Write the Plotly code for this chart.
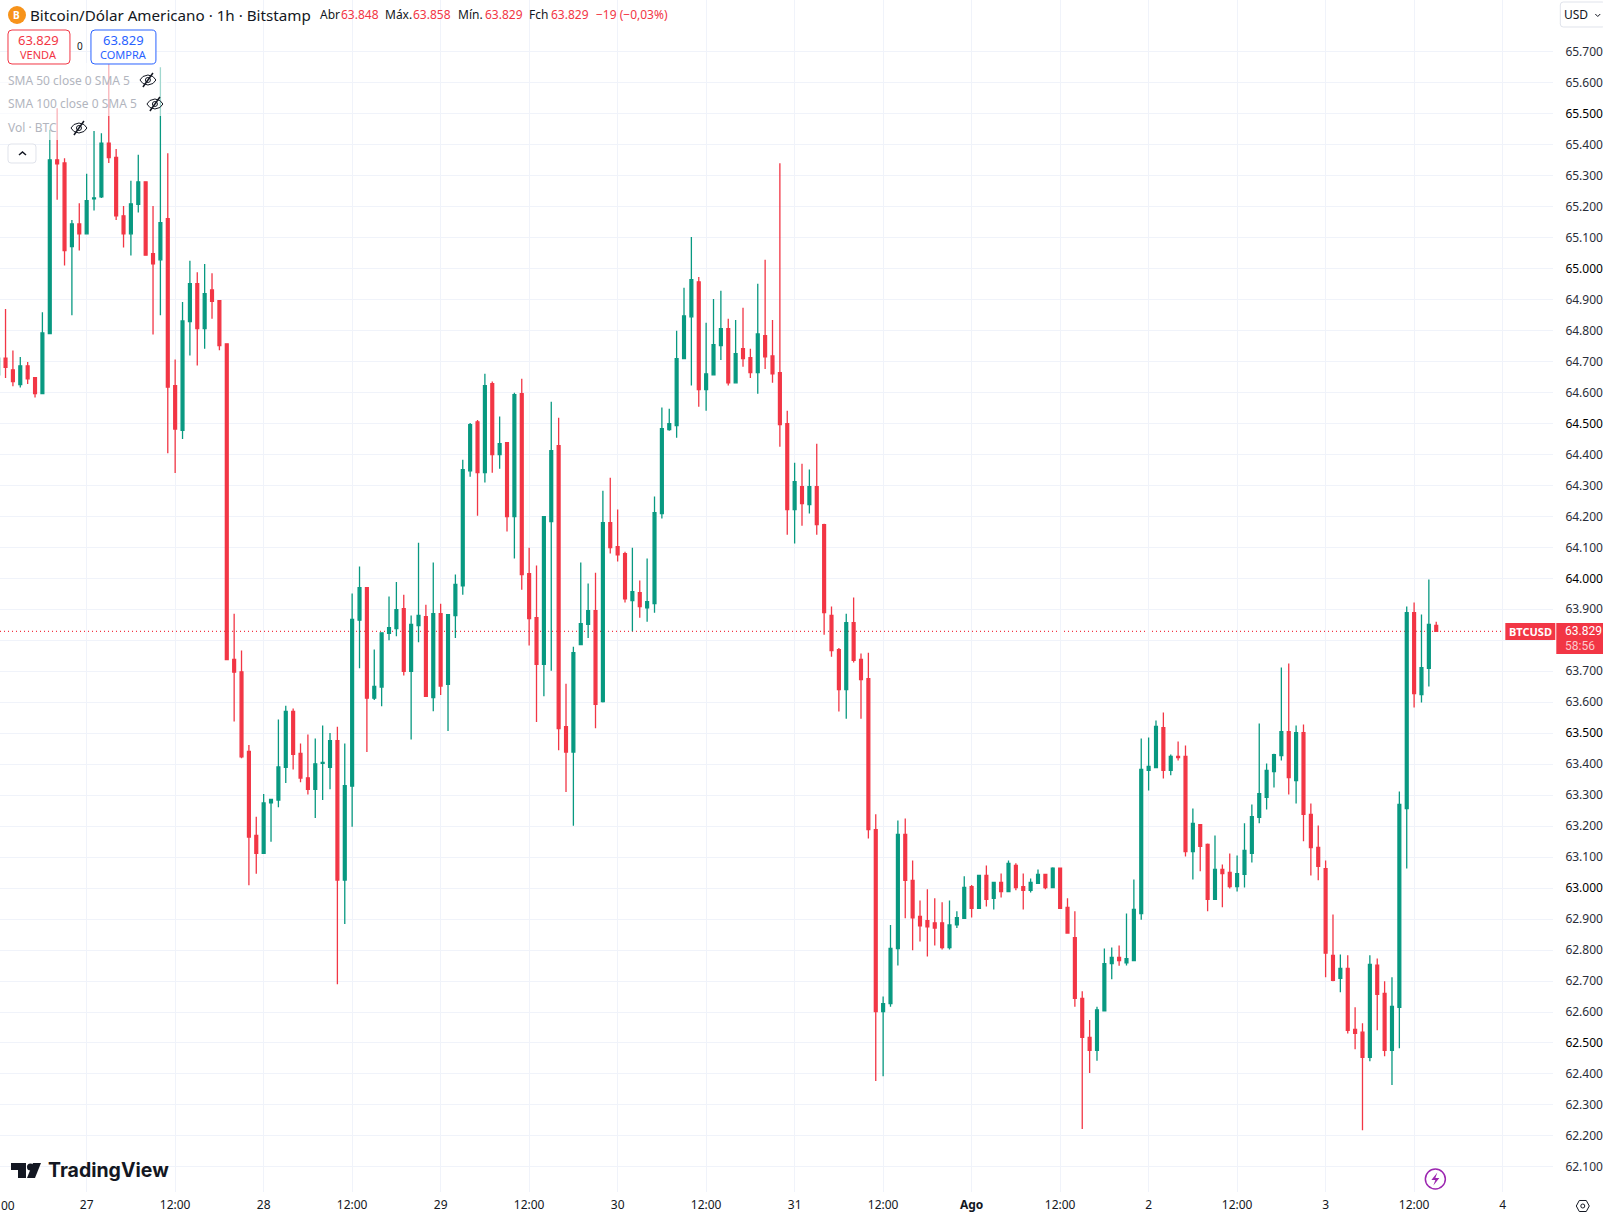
import pandas as pd
import plotly.graph_objects as go

# hourly candles, 26 Jul 12:00 -> 3 Aug 15:00 (one line = 12 hours)
opens = [
    64657, 64711, 64673, 64625, 64686, 64648, 64596, 64790, 65351, 65341, 65071, 65144,
    65112, 65225, 65231, 65405, 65359, 65170, 65112, 65207, 65280, 65048, 65028, 65161,
    64622, 64478, 64829, 64951, 64806, 64931, 64896, 64757, 63738, 63698, 63441, 63170,
    63112, 63275, 63284, 63390, 63570, 63435, 63356, 63319, 63403, 63390, 63476, 63026,
    63329, 63865, 63970, 63613, 63649, 63822, 63838, 63902, 63700, 63847, 63876, 63615,
    63886, 63658, 63880, 63976, 64347, 64505, 64341, 64628, 64399, 64438, 64199, 64596,
    64015, 63873, 63722, 64183, 64428, 63521, 63439, 63786, 63851, 63896, 63602, 64180,
    64102, 64080, 63928, 63954, 63905, 63918, 64209, 64480, 64493, 64709, 64844, 64957,
    64609, 64657, 64751, 64806, 64631, 64741, 64712, 64664, 64783, 64718, 64664, 64499,
    64222, 64296, 64238, 64296, 64173, 63880, 63770, 63641, 63857, 63738, 63676, 63189,
    62601, 62627, 62805, 63173, 63025, 62909, 62895, 62888, 62888, 62808, 62881, 62902,
    63005, 62935, 63041, 62967, 63018, 62989, 63073, 63005, 62993, 63015, 63044, 63002,
    63064, 62938, 62840, 62644, 62518, 62476, 62604, 62756, 62776, 62759, 62766, 62918,
    63380, 63389, 63518, 63380, 63425, 63425, 63118, 63205, 63141, 62964, 63060, 63051,
    63005, 63044, 63112, 63228, 63293, 63376, 63428, 63505, 63347, 63502, 63238, 63131,
    63063, 62783, 62709, 62741, 62544, 62535, 62454, 62751, 62660, 62476, 62615, 63257,
    63889, 63625, 63709, 63848,
]
highs = [
    64730, 64869, 64735, 64714, 64698, 64650, 64859, 65448, 65517, 65356, 65157, 65211,
    65306, 65444, 65437, 65663, 65386, 65202, 65283, 65367, 65280, 65202, 65650, 65372,
    64706, 64892, 65025, 64988, 65015, 64985, 64896, 64757, 63886, 63767, 63462, 63230,
    63304, 63288, 63544, 63589, 63580, 63467, 63496, 63483, 63525, 63501, 63521, 63467,
    63951, 64038, 63970, 63770, 63824, 63941, 63988, 63947, 63880, 64115, 63915, 64051,
    63918, 63883, 64012, 64383, 64501, 64511, 64660, 64635, 64522, 64438, 64599, 64644,
    64099, 64041, 64199, 64570, 64518, 63660, 63779, 64051, 63983, 64018, 64283, 64325,
    64222, 64086, 64099, 63993, 64064, 64264, 64551, 64547, 64799, 64938, 65102, 64973,
    64825, 64902, 64928, 64838, 64834, 64873, 64741, 64951, 65028, 64834, 65340, 64541,
    64373, 64370, 64351, 64434, 64176, 63909, 63775, 63886, 63938, 63757, 63760, 63238,
    62650, 62881, 63218, 63225, 63089, 62960, 62996, 62967, 62954, 62960, 62925, 63038,
    63010, 63041, 63073, 63018, 63047, 63089, 63080, 63047, 63031, 63060, 63044, 63067,
    63064, 62967, 62925, 62667, 62574, 62617, 62805, 62808, 62815, 62918, 63028, 63483,
    63486, 63541, 63567, 63431, 63473, 63460, 63257, 63205, 63144, 63170, 63076, 63112,
    63105, 63209, 63270, 63531, 63402, 63434, 63712, 63725, 63525, 63528, 63273, 63202,
    63089, 62915, 62786, 62783, 62615, 62564, 62783, 62773, 62699, 62712, 63312, 63909,
    63922, 63883, 63996, 63860,
]
lows = [
    64650, 64647, 64620, 64616, 64627, 64584, 64596, 64790, 65222, 65010, 64849, 65058,
    65112, 65187, 65228, 65341, 65157, 65068, 65042, 65181, 65041, 64787, 64849, 64404,
    64340, 64450, 64719, 64687, 64741, 64838, 64736, 63738, 63538, 63419, 63009, 63046,
    63112, 63150, 63261, 63339, 63383, 63342, 63302, 63226, 63284, 63319, 62690, 62884,
    63198, 63710, 63439, 63607, 63587, 63800, 63813, 63686, 63480, 63794, 63619, 63571,
    63623, 63507, 63807, 63947, 64328, 64202, 64309, 64341, 64354, 64151, 64064, 63963,
    63783, 63536, 63619, 63702, 63445, 63310, 63201, 63786, 63807, 63516, 63599, 64080,
    64054, 63922, 63829, 63873, 63860, 63889, 64193, 64476, 64454, 64709, 64622, 64554,
    64541, 64657, 64705, 64622, 64631, 64683, 64647, 64596, 64676, 64631, 64425, 64141,
    64112, 64170, 64209, 64141, 63818, 63747, 63570, 63547, 63728, 63547, 63160, 62377,
    62393, 62617, 62750, 62903, 62799, 62828, 62779, 62815, 62802, 62802, 62871, 62901,
    62905, 62935, 62941, 62931, 62970, 62989, 62993, 62931, 62986, 63015, 62996, 63002,
    62935, 62855, 62617, 62222, 62403, 62443, 62604, 62706, 62749, 62750, 62766, 62898,
    63315, 63389, 63354, 63364, 63412, 63102, 63028, 63054, 62925, 62964, 62938, 62999,
    62989, 63002, 63083, 63209, 63254, 63325, 63412, 63302, 63273, 63151, 63041, 63025,
    62712, 62699, 62664, 62531, 62480, 62218, 62441, 62541, 62457, 62364, 62483, 63063,
    63583, 63599, 63651, 63829,
]
closes = [
    64711, 64681, 64635, 64686, 64644, 64596, 64792, 65351, 65338, 65058, 65144, 65112,
    65219, 65228, 65405, 65358, 65170, 65112, 65209, 65280, 65043, 65015, 65148, 64617,
    64482, 64831, 64951, 64806, 64919, 64894, 64751, 63738, 63697, 63424, 63165, 63112,
    63275, 63286, 63391, 63570, 63432, 63355, 63319, 63401, 63406, 63476, 63026, 63331,
    63867, 63970, 63613, 63651, 63824, 63841, 63899, 63700, 63851, 63880, 63619, 63886,
    63652, 63883, 63980, 64351, 64496, 64341, 64622, 64399, 64435, 64199, 64593, 64012,
    63870, 63722, 64199, 64412, 63515, 63439, 63760, 63854, 63896, 63593, 64180, 64099,
    64076, 63934, 63957, 63909, 63925, 64212, 64483, 64499, 64709, 64847, 64964, 64609,
    64660, 64754, 64806, 64631, 64725, 64709, 64664, 64789, 64715, 64660, 64496, 64222,
    64312, 64241, 64296, 64173, 63889, 63767, 63641, 63857, 63735, 63673, 63189, 62601,
    62627, 62805, 63173, 63025, 62904, 62878, 62875, 62871, 62808, 62881, 62905, 63002,
    62935, 63041, 62964, 63018, 62989, 63080, 63002, 62993, 63018, 63044, 63002, 63064,
    62935, 62855, 62644, 62518, 62476, 62607, 62756, 62776, 62766, 62772, 62931, 63383,
    63393, 63522, 63380, 63425, 63421, 63118, 63209, 63135, 62964, 63060, 63047, 63005,
    63047, 63122, 63231, 63305, 63380, 63431, 63505, 63357, 63502, 63238, 63131, 63070,
    62790, 62702, 62741, 62541, 62531, 62454, 62754, 62657, 62476, 62618, 63270, 63889,
    63628, 63712, 63851, 63829,
]
times = pd.date_range("2024-07-26 12:00", periods=len(closes), freq="h")

time_ticks = pd.date_range("2024-07-27 00:00", "2024-08-04 00:00", freq="12h")
time_labels = ["27", "12:00", "28", "12:00", "29", "12:00", "30", "12:00", "31",
               "12:00", "<b>Ago</b>", "12:00", "2", "12:00", "3", "12:00", "4"]
price_ticks = list(range(62100, 65800, 100))
price_labels = []
for p in price_ticks:
    label = f"{p // 1000}.{p % 1000:03d}"
    if p == 63800:  # sits under the last price tag
        label = ""
    elif p % 500 == 0:
        label = f'<span style="color:#000000">{label}</span>'
    price_labels.append(label)
last_price = 63829

RED = "#F23645"
GREEN = "#089981"
BLUE = "#2962FF"
GRID = "#F0F3FA"
FONT = "Noto Sans"

# plot area in page pixels
PW = 1556
PH = 1192
# width the paper coordinates really span on the page, measured from the render
PAPER_W = 1553.7


def xp(x):
    return x / PAPER_W


def yp(y):
    return 1 - y / PH


shapes = []
notes = []


def rect(x0, y0, x1, y1, fill="rgba(0,0,0,0)", line="rgba(0,0,0,0)", width=1, opacity=1):
    shapes.append(dict(type="rect", xref="paper", yref="paper", x0=xp(x0), y0=yp(y0), x1=xp(x1), y1=yp(y1),
                       fillcolor=fill, line=dict(color=line, width=width), opacity=opacity, layer="above"))


def rrect(x0, y0, x1, y1, r=4, fill="white", line="#E0E3EB"):
    p = lambda x, y: f"{xp(x):.5f},{yp(y):.5f}"
    d = (f"M{p(x0 + r, y0)} L{p(x1 - r, y0)} Q{p(x1, y0)} {p(x1, y0 + r)} L{p(x1, y1 - r)} "
         f"Q{p(x1, y1)} {p(x1 - r, y1)} L{p(x0 + r, y1)} Q{p(x0, y1)} {p(x0, y1 - r)} "
         f"L{p(x0, y0 + r)} Q{p(x0, y0)} {p(x0 + r, y0)} Z")
    shapes.append(dict(type="path", xref="paper", yref="paper", path=d, fillcolor=fill,
                       line=dict(color=line, width=1), layer="above"))


def circle(cx, cy, r, fill="rgba(0,0,0,0)", line="rgba(0,0,0,0)", width=1):
    shapes.append(dict(type="circle", xref="paper", yref="paper", x0=xp(cx - r), y0=yp(cy - r), x1=xp(cx + r), y1=yp(cy + r),
                       fillcolor=fill, line=dict(color=line, width=width), layer="above"))


def path(points, fill="rgba(0,0,0,0)", line="rgba(0,0,0,0)", width=1, close=False):
    d = "M" + " L".join(f"{xp(x):.5f},{yp(y):.5f}" for x, y in points) + (" Z" if close else "")
    shapes.append(dict(type="path", xref="paper", yref="paper", path=d, fillcolor=fill,
                       line=dict(color=line, width=width), layer="above"))


def text(x, y, s, size=12, color="#131722", anchor="left", family=FONT):
    notes.append(dict(xref="paper", yref="paper", x=xp(x), y=yp(y), text=s, showarrow=False,
                      xanchor=anchor, yanchor="middle", borderpad=0,
                      font=dict(size=size, color=color, family=family)))


def eye(cx, cy):
    path([(cx - 8, cy), (cx - 5, cy - 3.5), (cx, cy - 5), (cx + 5, cy - 3.5), (cx + 8, cy),
          (cx + 5, cy + 3.5), (cx, cy + 5), (cx - 5, cy + 3.5)], line="#131722", close=True)
    circle(cx, cy, 2.5, line="#131722")
    path([(cx - 5, cy + 7), (cx + 5, cy - 7)], line="#131722", width=1.5)


# legend backing, the wicks show faded through it
rect(0, 63, 167, 116, fill="white", opacity=0.62)
rect(0, 116, 92, 140, fill="white", opacity=0.62)

# header
circle(17, 15, 9, fill="#F7931A")
text(17, 15, "<b>B</b>", size=10, color="white", anchor="center")
text(29, 15, "Bitcoin/Dólar Americano · 1h · Bitstamp", size=15.2)
text(319, 15, "Abr", size=12)
text(340, 15, "63.848", size=12, color=RED)
text(384, 15, "Máx.", size=12)
text(412, 15, "63.858", size=12, color=RED)
text(457, 15, "Mín.", size=12)
text(484, 15, "63.829", size=12, color=RED)
text(528, 15, "Fch", size=12)
text(550, 15, "63.829", size=12, color=RED)
text(595, 15, "−19 (−0,03%)", size=12, color=RED)

# sell / buy buttons
rrect(8, 30, 70, 64, fill="white", line=RED)
text(39, 40, "63.829", size=13, color=RED, anchor="center")
text(39, 54, "VENDA", size=11, color=RED, anchor="center")
text(80, 46, "0", size=10, anchor="center")
rrect(91, 30, 156, 64, fill="white", line=BLUE)
text(123.5, 40, "63.829", size=13, color=BLUE, anchor="center")
text(123.5, 54, "COMPRA", size=11, color=BLUE, anchor="center")

# indicator legend
text(7.5, 80, "SMA 50 close 0 SMA 5", size=12, color="#B2B5BE")
text(7.5, 104, "SMA 100 close 0 SMA 5", size=12, color="#B2B5BE")
text(7.5, 128, "Vol · BTC", size=12, color="#B2B5BE")
eye(148, 80)
eye(155, 104)
eye(79, 128)
rrect(8, 144, 36, 163, r=3)
path([(19, 155), (22.5, 152), (26, 155)], line="#131722", width=1.5)

# currency box
rrect(1561, 2, 1606, 27, r=3)
text(1564, 15, "USD", size=12)
path([(1596, 14), (1598.5, 16.5), (1601, 14)], line="#131722")

# last price tags
rect(1506, 623, 1556, 640, fill=RED)
text(1531, 631.5, "<b>BTCUSD</b>", size=11, color="white", anchor="center")
rect(1557, 623, 1604, 654, fill=RED)
text(1565, 631, "63.829", size=12, color="white", family="Roboto")
text(1565, 646, "58:56", size=12, color="#FCCBCD", family="Roboto")

# TradingView logo
path([(11, 1163), (26, 1163), (26, 1178), (18, 1178), (18, 1170), (11, 1170)], fill="#131722", close=True)
circle(30.5, 1167, 3.5, fill="#131722")
path([(33, 1163), (41, 1163), (35, 1178), (27, 1178)], fill="#131722", close=True)
text(47, 1170, "<b>TradingView</b>", size=19.5, family="Inter")

# lightning button
circle(1436, 1179, 10, fill="white", line="#9C27B0", width=1.5)
path([(1438, 1172.5), (1432, 1180), (1436, 1180), (1434, 1185.5), (1440, 1178), (1436, 1178)], fill="#9C27B0", close=True)

# settings hexagon
path([(1577, 1206), (1580, 1200.5), (1587, 1200.5), (1590, 1206), (1587, 1211.5), (1580, 1211.5)], line="#131722", close=True)
circle(1583.5, 1206, 2, line="#131722")

# "12:00" cut by the left edge of the page
text(0, 1205, "00", size=12)

shapes.insert(0, dict(type="line", xref="paper", yref="y", x0=0, x1=xp(1504), y0=last_price, y1=last_price,
                      line=dict(color=RED, width=1.2, dash="1px,3px"), layer="below"))

fig = go.Figure(go.Candlestick(
    x=times, open=opens, high=highs, low=lows, close=closes,
    increasing=dict(line=dict(color=GREEN, width=1.3), fillcolor=GREEN),
    decreasing=dict(line=dict(color=RED, width=1.3), fillcolor=RED),
    whiskerwidth=0,
))

fig.update_layout(
    width=1603, height=1216,
    margin=dict(l=0, r=1603 - PW, t=0, b=1216 - PH),
    paper_bgcolor="white", plot_bgcolor="white",
    showlegend=False, boxgap=0.45,
    font=dict(family=FONT, size=12, color="#131722"),
    shapes=shapes, annotations=notes,
    xaxis=dict(
        rangeslider=dict(visible=False), type="date",
        range=[pd.Timestamp("2024-07-26 12:15"), pd.Timestamp("2024-08-04 06:50")],
        tickmode="array", tickvals=time_ticks, ticktext=time_labels,
        showgrid=True, gridcolor=GRID, gridwidth=1, zeroline=False, showline=False,
        ticks="outside", ticklen=2, tickcolor="rgba(0,0,0,0)",
        tickfont=dict(size=12, color="#131722", family=FONT),
    ),
    yaxis=dict(
        side="right", range=[62019, 65866.8],
        tickmode="array", tickvals=price_ticks, ticktext=price_labels,
        showgrid=True, gridcolor=GRID, gridwidth=1, zeroline=False, showline=False,
        ticks="outside", ticklen=9, tickcolor="rgba(0,0,0,0)",
        tickfont=dict(size=12, color="#2A2E39", family=FONT),
    ),
)

fig.write_html("out.html", config={"displayModeBar": False},
               post_script="document.body.style.margin='0';document.body.style.overflow='hidden';")
